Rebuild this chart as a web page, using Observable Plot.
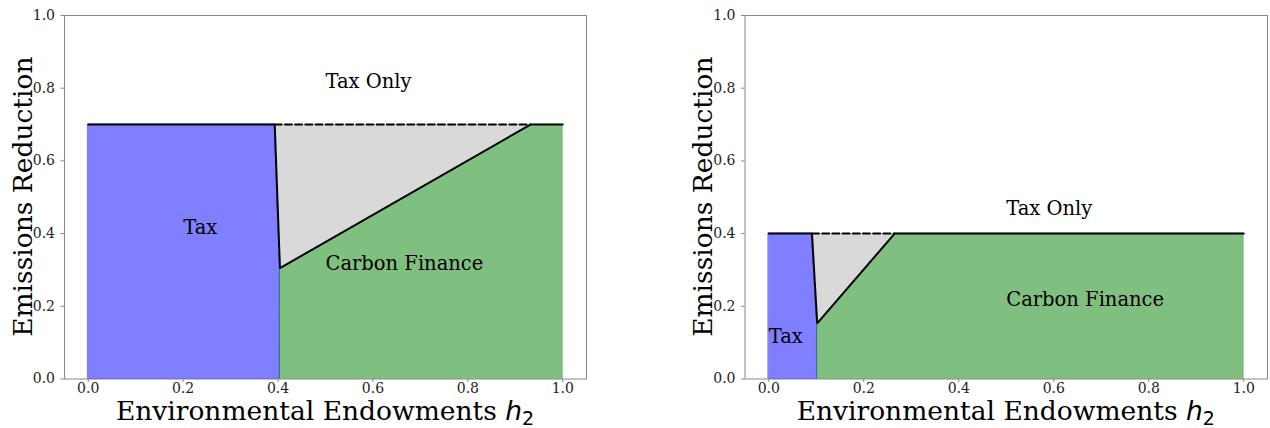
<!DOCTYPE html>
<html>
<head>
<meta charset="utf-8">
<script src="https://cdn.jsdelivr.net/npm/d3@7"></script>
<script src="https://cdn.jsdelivr.net/npm/@observablehq/plot@0.6"></script>
<style>
  html, body { margin: 0; padding: 0; background: #fff; }
  #wrap { position: relative; width: 1270px; height: 428px; overflow: hidden; }
  #wrap svg { position: absolute; top: 0; }
  #wrap svg text { font-family: "DejaVu Serif", serif; }
  #wrap svg text tspan.math { font-family: "DejaVu Sans", sans-serif; }
</style>
</head>
<body>
<div id="wrap"></div>
<script>
// ---- data ----
const xTicks = [0, 0.2, 0.4, 0.6, 0.8, 1.0];
const yTicks = [0, 0.2, 0.4, 0.6, 0.8, 1.0];

// left panel boundary (black line)
const leftBoundaryX = [0, 0.393, 0.404, 0.932, 1.0];
const leftBoundaryY = [0.70, 0.70, 0.305, 0.70, 0.70];
const leftTop = 0.70;
const leftLabels = ["Tax Only", "Tax", "Carbon Finance"];
const leftLabelX = [0.5, 0.2, 0.5];
const leftLabelY = [0.8, 0.4, 0.3];

// right panel boundary (black line)
const rightBoundaryX = [0, 0.091, 0.102, 0.265, 1.0];
const rightBoundaryY = [0.40, 0.40, 0.153, 0.40, 0.40];
const rightTop = 0.40;
const rightLabels = ["Tax Only", "Tax", "Carbon Finance"];
const rightLabelX = [0.5, 0.0, 0.5];
const rightLabelY = [0.45, 0.1, 0.2];

const xLabelMain = "Environmental Endowments ";
const xLabelVar = "h";
const xLabelSub = "2";
const yLabel = "Emissions Reduction";

const W = 635, H = 428;

function panel(bx, by, top, labels, lx, ly, mLeft, mRight, yLabelX) {
  const pts = bx.map((x, i) => ({x, y: by[i]}));
  const tax = pts.slice(0, 3);
  const green = pts.slice(2);
  const grey = pts.slice(1, 4);
  const dashed = [pts[1], {x: pts[3].x, y: top}];
  const texts = labels.map((t, i) => ({t, x: lx[i], y: ly[i]}));

  const svg = Plot.plot({
    width: W, height: H,
    marginTop: 15, marginBottom: 49.5, marginLeft: mLeft, marginRight: mRight,
    style: {fontFamily: "DejaVu Serif", fontSize: "14px", background: "transparent"},
    x: {domain: [-0.05, 1.05]},
    y: {domain: [0, 1]},
    marks: [
      Plot.areaY(tax, {x: "x", y: "y", fill: "blue", fillOpacity: 0.5, stroke: "blue", strokeOpacity: 0.5, strokeWidth: 1, curve: "linear"}),
      Plot.areaY(green, {x: "x", y: "y", fill: "green", fillOpacity: 0.5, stroke: "green", strokeOpacity: 0.3, strokeWidth: 1, curve: "linear"}),
      Plot.areaY(grey, {x: "x", y1: "y", y2: top, fill: "#d9d9d9", curve: "linear"}),
      Plot.line(dashed, {x: "x", y: "y", stroke: "#000", strokeWidth: 2, strokeDasharray: "7,3.2"}),
      Plot.line(pts, {x: "x", y: "y", stroke: "#000", strokeWidth: 2, strokeLinejoin: "miter"}),
      Plot.text(texts, {x: "x", y: "y", text: "t", textAnchor: "start", lineAnchor: "bottom",
        fontSize: 19.5, fill: "#000"}),
      Plot.frame({stroke: "#888", strokeWidth: 1}),
      Plot.axisX({ticks: xTicks, tickFormat: d3.format(".1f"), tickSize: 3.5, tickPadding: 1,
        stroke: "#888", fill: "#222", label: null, fontSize: 14}),
      Plot.axisY({ticks: yTicks, tickFormat: d3.format(".1f"), tickSize: 3.5, tickPadding: 6,
        stroke: "#888", fill: "#222", label: null, fontSize: 14})
    ]
  });

  const s = d3.select(svg);
  const cx = (mLeft + (W - mRight)) / 2;
  const xl = s.append("text")
    .attr("x", cx).attr("y", 420)
    .attr("text-anchor", "middle")
    .attr("font-size", 26.5).attr("fill", "#000");
  xl.append("tspan").text(xLabelMain);
  xl.append("tspan").attr("class", "math").attr("font-style", "italic").text(xLabelVar);
  xl.append("tspan").attr("class", "math").attr("font-size", 19).attr("dy", 5).text(xLabelSub);

  s.append("text")
    .attr("transform", `translate(${yLabelX},196.7) rotate(-90)`)
    .attr("text-anchor", "middle")
    .attr("font-size", 26.5).attr("fill", "#000")
    .text(yLabel);
  return svg;
}

const wrap = document.getElementById("wrap");
const left = panel(leftBoundaryX, leftBoundaryY, leftTop, leftLabels, leftLabelX, leftLabelY, 64, 49, 31.5);
left.style.left = "0px";
wrap.appendChild(left);
const right = panel(rightBoundaryX, rightBoundaryY, rightTop, rightLabels, rightLabelX, rightLabelY, 109.5, 3, 77);
right.style.left = "635px";
wrap.appendChild(right);
</script>
</body>
</html>
